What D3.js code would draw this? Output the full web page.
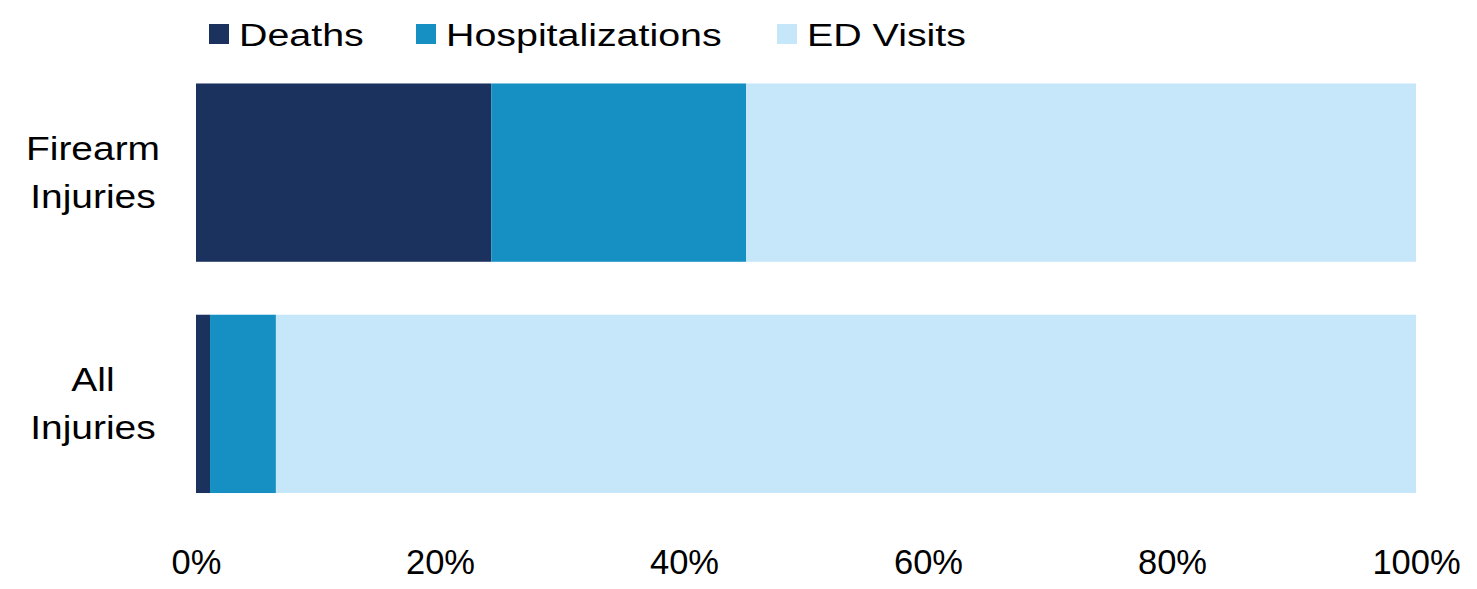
<!DOCTYPE html>
<html>
  <head>
    <script src="https://cdn.jsdelivr.net/npm/d3@7/dist/d3.min.js"></script>
    <style>
      body { margin: 0; background: #fff; }
      text { font-family: "Liberation Sans", Arial, sans-serif; fill: #000; }
    </style>
  </head>
  <body>
    <script>

    // Data (percent of each injury group)
    var categories = ["Firearm Injuries", "All Injuries"];
    var categoryLines = [["Firearm", "Injuries"], ["All", "Injuries"]];
    var seriesNames = ["Deaths", "Hospitalizations", "ED Visits"];
    var deaths = [24.2, 1.15];
    var hospitalizations = [20.9, 5.4];
    var edVisits = [54.9, 93.45];
    var tickValues = [0, 20, 40, 60, 80, 100];
    var colors = ["#1c325e", "#1690c3", "#c5e7f9"];

    var W = 1477, H = 589;
    var x0 = 196, x1 = 1416;

    var svg = d3.select("body").append("svg")
      .attr("width", W)
      .attr("height", H);

    // Build rows for the stack
    var rows = categories.map(function(c, i) {
      return { cat: c, "Deaths": deaths[i], "Hospitalizations": hospitalizations[i], "ED Visits": edVisits[i] };
    });
    var stacked = d3.stack().keys(seriesNames)(rows);

    var x = d3.scaleLinear().domain([0, 100]).range([x0, x1]);
    var y = d3.scaleBand()
      .domain(categories)
      .range([57, 519.5])
      .paddingInner(0.229)
      .paddingOuter(0.1145);

    // Bars
    svg.append("g").selectAll("g")
      .data(stacked)
      .enter().append("g")
        .attr("fill", function(d, i) { return colors[i]; })
      .selectAll("rect")
      .data(function(d) { return d; })
      .enter().append("rect")
        .attr("x", function(d) { return x(d[0]); })
        .attr("y", function(d) { return y(d.data.cat); })
        .attr("width", function(d) { return x(d[1]) - x(d[0]); })
        .attr("height", y.bandwidth());

    // Bottom axis, labels only
    var xAxis = d3.axisBottom(x)
      .tickValues(tickValues)
      .tickFormat(function(d) { return d + "%"; })
      .tickSize(0);
    var gx = svg.append("g")
      .attr("transform", "translate(0,545)")
      .call(xAxis);
    gx.select(".domain").remove();
    gx.selectAll("text")
      .attr("y", 0)
      .attr("dy", "0.85em")
      .style("font-family", "'Liberation Sans', Arial, sans-serif")
      .style("font-size", "34.5px")
      .attr("fill", "#000");

    // Category labels, two lines each, stretched a bit wider
    var cats = svg.append("g").selectAll("g")
      .data(categories)
      .enter().append("g")
        .attr("transform", function(d) {
          return "translate(93," + (y(d) + y.bandwidth() / 2) + ") scale(1.18,1)";
        });
    cats.append("text")
      .attr("text-anchor", "middle")
      .attr("y", -13)
      .style("font-size", "33px")
      .text(function(d, i) { return categoryLines[i][0]; });
    cats.append("text")
      .attr("text-anchor", "middle")
      .attr("y", 35)
      .style("font-size", "33px")
      .text(function(d, i) { return categoryLines[i][1]; });

    // Legend
    var legendX = [209, 416, 777];
    var legend = svg.append("g").selectAll("g")
      .data(seriesNames)
      .enter().append("g")
        .attr("transform", function(d, i) { return "translate(" + legendX[i] + ",24)"; });
    legend.append("rect")
      .attr("width", 20)
      .attr("height", 20)
      .attr("fill", function(d, i) { return colors[i]; });
    legend.append("text")
      .attr("transform", "translate(30,22) scale(1.27,1)")
      .style("font-size", "31px")
      .text(function(d) { return d; });
    </script>
  </body>
</html>
